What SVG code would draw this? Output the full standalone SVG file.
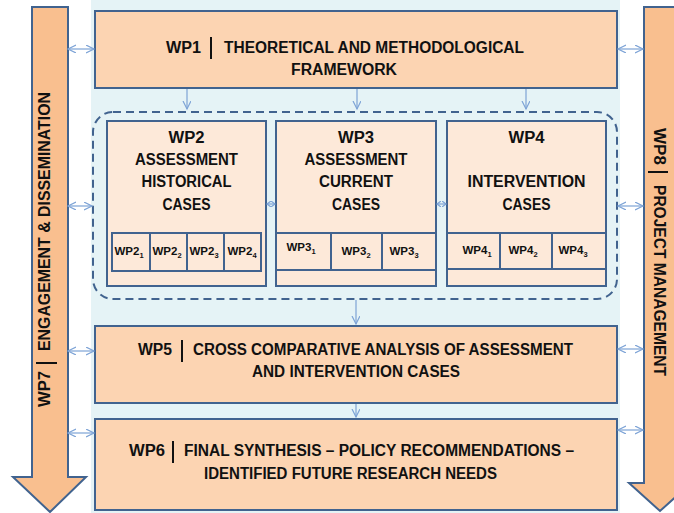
<svg xmlns="http://www.w3.org/2000/svg" width="674" height="513" viewBox="0 0 674 513">
  <defs>
    <marker id="arr" markerUnits="userSpaceOnUse" markerWidth="10" markerHeight="10" refX="8" refY="4" orient="auto-start-reverse">
      <path d="M0,0 L8,4 L0,8" fill="none" stroke="#7da3d6" stroke-width="1.2"/>
    </marker>
    <marker id="arrs" markerUnits="userSpaceOnUse" markerWidth="6" markerHeight="6" refX="4" refY="3" orient="auto-start-reverse">
      <path d="M0,0 L4,3 L0,6" fill="none" stroke="#7da3d6" stroke-width="1.2"/>
    </marker>
    <style>
      .wp { fill: #fcd4b2; stroke: #41638f; stroke-width: 2; }
      .sub { fill: #fde9d9; stroke: #41638f; stroke-width: 2; }
      .side { fill: #f9bf8f; stroke: #41638f; stroke-width: 2; }
      .t { font-family: "Liberation Sans", Arial, sans-serif; font-weight: bold; font-size: 16px; fill: #111; }
      .s { font-family: "Liberation Sans", Arial, sans-serif; font-weight: bold; font-size: 11.5px; fill: #111; text-anchor: middle; }
      .m { text-anchor: middle; }
      .e { text-anchor: end; }
      .bar { stroke: #111; stroke-width: 2; }
      .c { fill: none; stroke: #7da3d6; stroke-width: 1.2; }
      .c2 { marker-start: url(#arr); marker-end: url(#arr); }
      .c1 { marker-end: url(#arr); }
      .cs { marker-start: url(#arrs); marker-end: url(#arrs); }
    </style>
  </defs>

  <!-- canvas -->
  <rect x="0" y="0" width="674" height="513" fill="#ffffff"/>
  <rect x="91" y="0" width="529" height="513" fill="#e5f3f6"/>

  <!-- WP7 side arrow -->
  <g id="wp7">
    <path class="side" d="M32,7 H68 V477 H86 L50,512 L13,477 H32 Z"/>
    <g transform="translate(50,407) rotate(-90)">
      <text class="t" x="0" y="0" textLength="36" lengthAdjust="spacingAndGlyphs">WP7</text>
      <line class="bar" x1="44" y1="-14" x2="44" y2="7"/>
      <text class="t" x="56" y="0" textLength="259" lengthAdjust="spacingAndGlyphs">ENGAGEMENT &amp; DISSEMINATION</text>
    </g>
  </g>

  <!-- WP8 side arrow -->
  <g id="wp8">
    <path class="side" d="M644,7 H676 V483 H691 L660,511 L629,483 H644 Z"/>
    <g transform="translate(654,128) rotate(90)">
      <text class="t" x="0" y="0" textLength="37" lengthAdjust="spacingAndGlyphs">WP8</text>
      <line class="bar" x1="44" y1="-14" x2="44" y2="6"/>
      <text class="t" x="57" y="0" textLength="191" lengthAdjust="spacingAndGlyphs">PROJECT MANAGEMENT</text>
    </g>
  </g>

  <!-- case study cluster -->
  <rect id="cases-group" x="93" y="112" width="524" height="187" rx="20" fill="none" stroke="#41638f" stroke-width="2" stroke-dasharray="8 5"/>

  <g id="wp1">
    <rect class="wp" x="95" y="11" width="522" height="77"/>
    <text class="t e" x="201" y="53" textLength="35" lengthAdjust="spacingAndGlyphs">WP1</text>
    <line class="bar" x1="211" y1="37" x2="211" y2="59"/>
    <text class="t" x="224" y="53" textLength="300" lengthAdjust="spacingAndGlyphs">THEORETICAL AND METHODOLOGICAL</text>
    <text class="t m" x="344" y="75" textLength="106" lengthAdjust="spacingAndGlyphs">FRAMEWORK</text>
  </g>

  <g id="wp2">
    <rect class="sub" x="107" y="121" width="159" height="165"/>
    <text class="t m" x="186.5" y="143" textLength="36" lengthAdjust="spacingAndGlyphs">WP2</text>
    <text class="t m" x="186.5" y="165" textLength="103" lengthAdjust="spacingAndGlyphs">ASSESSMENT</text>
    <text class="t m" x="186.5" y="187" textLength="90" lengthAdjust="spacingAndGlyphs">HISTORICAL</text>
    <text class="t m" x="186.5" y="210" textLength="48" lengthAdjust="spacingAndGlyphs">CASES</text>
    <rect class="sub" x="112" y="233" width="38" height="38"/>
    <rect class="sub" x="150" y="233" width="37" height="38"/>
    <rect class="sub" x="187" y="233" width="37" height="38"/>
    <rect class="sub" x="224" y="233" width="37" height="38"/>
    <text class="s" x="129" y="255">WP2<tspan font-size="7.5" dy="2.5">1</tspan></text>
    <text class="s" x="167" y="255">WP2<tspan font-size="7.5" dy="2.5">2</tspan></text>
    <text class="s" x="204" y="255">WP2<tspan font-size="7.5" dy="2.5">3</tspan></text>
    <text class="s" x="242" y="255">WP2<tspan font-size="7.5" dy="2.5">4</tspan></text>
  </g>

  <g id="wp3">
    <rect class="sub" x="276" y="121" width="160" height="165"/>
    <text class="t m" x="356" y="143" textLength="36" lengthAdjust="spacingAndGlyphs">WP3</text>
    <text class="t m" x="356" y="165" textLength="103" lengthAdjust="spacingAndGlyphs">ASSESSMENT</text>
    <text class="t m" x="356" y="187" textLength="74" lengthAdjust="spacingAndGlyphs">CURRENT</text>
    <text class="t m" x="356" y="210" textLength="48" lengthAdjust="spacingAndGlyphs">CASES</text>
    <rect class="sub" x="276" y="233" width="55" height="37"/>
    <rect class="sub" x="331" y="233" width="51" height="37"/>
    <rect class="sub" x="382" y="233" width="54" height="37"/>
    <text class="s" x="301" y="251">WP3<tspan font-size="7.5" dy="2.5">1</tspan></text>
    <text class="s" x="356" y="255">WP3<tspan font-size="7.5" dy="2.5">2</tspan></text>
    <text class="s" x="404" y="255">WP3<tspan font-size="7.5" dy="2.5">3</tspan></text>
  </g>

  <g id="wp4">
    <rect class="sub" x="447" y="121" width="159" height="165"/>
    <text class="t m" x="526.5" y="143" textLength="36" lengthAdjust="spacingAndGlyphs">WP4</text>
    <text class="t m" x="526.5" y="187" textLength="118" lengthAdjust="spacingAndGlyphs">INTERVENTION</text>
    <text class="t m" x="526.5" y="210" textLength="48" lengthAdjust="spacingAndGlyphs">CASES</text>
    <rect class="sub" x="447" y="233" width="53" height="36"/>
    <rect class="sub" x="500" y="233" width="52" height="36"/>
    <rect class="sub" x="552" y="233" width="54" height="36"/>
    <text class="s" x="477" y="254">WP4<tspan font-size="7.5" dy="2.5">1</tspan></text>
    <text class="s" x="523" y="254">WP4<tspan font-size="7.5" dy="2.5">2</tspan></text>
    <text class="s" x="573" y="254">WP4<tspan font-size="7.5" dy="2.5">3</tspan></text>
  </g>

  <g id="wp5">
    <rect class="wp" x="95" y="326" width="522" height="77"/>
    <text class="t e" x="172" y="355" textLength="34" lengthAdjust="spacingAndGlyphs">WP5</text>
    <line class="bar" x1="182" y1="340" x2="182" y2="362"/>
    <text class="t" x="193" y="355" textLength="380" lengthAdjust="spacingAndGlyphs">CROSS COMPARATIVE ANALYSIS OF ASSESSMENT</text>
    <text class="t m" x="356" y="377" textLength="208" lengthAdjust="spacingAndGlyphs">AND INTERVENTION CASES</text>
  </g>

  <g id="wp6">
    <rect class="wp" x="95" y="419" width="522" height="91"/>
    <text class="t e" x="165" y="456" textLength="36" lengthAdjust="spacingAndGlyphs">WP6</text>
    <line class="bar" x1="173" y1="441" x2="173" y2="463"/>
    <text class="t" x="184" y="456" textLength="390" lengthAdjust="spacingAndGlyphs">FINAL SYNTHESIS – POLICY RECOMMENDATIONS –</text>
    <text class="t" x="204" y="479" textLength="293" lengthAdjust="spacingAndGlyphs">IDENTIFIED FUTURE RESEARCH NEEDS</text>
  </g>

  <!-- connectors -->
  <g id="connectors">
    <line class="c c2" x1="68" y1="49" x2="94" y2="49"/>
    <line class="c c2" x1="68" y1="206" x2="92" y2="206"/>
    <line class="c c2" x1="68" y1="351" x2="94" y2="351"/>
    <line class="c c2" x1="68" y1="433" x2="94" y2="433"/>
    <line class="c c2" x1="618" y1="49" x2="643" y2="49"/>
    <line class="c c2" x1="618" y1="206" x2="643" y2="206"/>
    <line class="c c2" x1="618" y1="349" x2="643" y2="349"/>
    <line class="c c2" x1="618" y1="430" x2="643" y2="430"/>
    <line class="c c1" x1="187" y1="89" x2="187" y2="109"/>
    <line class="c c1" x1="357" y1="89" x2="357" y2="109"/>
    <line class="c c1" x1="526" y1="89" x2="526" y2="109"/>
    <line class="c c1" x1="356" y1="300" x2="356" y2="324"/>
    <line class="c c1" x1="356" y1="404" x2="356" y2="417"/>
    <line class="c cs" x1="267" y1="204" x2="275" y2="204"/>
    <line class="c cs" x1="437" y1="204" x2="446" y2="204"/>
  </g>
</svg>
